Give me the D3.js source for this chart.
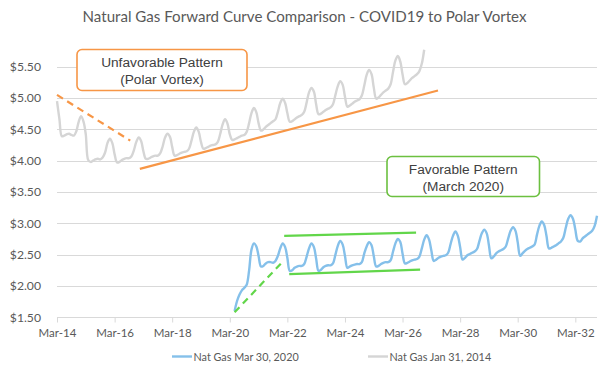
<!DOCTYPE html>
<html>
<head>
<meta charset="utf-8">
<script src="https://cdn.jsdelivr.net/npm/d3@7"></script>
<style>
  html, body { margin: 0; padding: 0; background: #ffffff; }
  svg { display: block; }
</style>
</head>
<body>
<svg id="chart" width="608" height="372"></svg>
<script>
// ---------------- DATA ----------------
const chartTitle = "Natural Gas Forward Curve Comparison - COVID19 to Polar Vortex";

// Nat Gas forward curve as of Jan 31, 2014 (monthly, first contract Mar-14)
const grayStart = "Mar-14";
const grayValues = [
  4.95, 4.66, 4.39, 4.40, 4.42, 4.43, 4.41, 4.40, 4.47, 4.62,
  4.71, 4.62, 4.42, 4.01, 3.98, 4.00, 4.02, 4.03, 4.02, 4.05, 4.13, 4.28,
  4.35, 4.28, 4.10, 3.97, 3.98, 4.01, 4.03, 4.04, 4.04, 4.07, 4.17, 4.30,
  4.37, 4.31, 4.15, 4.03, 4.03, 4.05, 4.07, 4.08, 4.08, 4.12, 4.23, 4.37,
  4.43, 4.38, 4.22, 4.08, 4.09, 4.11, 4.13, 4.14, 4.15, 4.19, 4.32, 4.46,
  4.53, 4.46, 4.30, 4.19, 4.20, 4.22, 4.24, 4.25, 4.26, 4.30, 4.43, 4.58,
  4.66, 4.59, 4.42, 4.33, 4.34, 4.36, 4.38, 4.40, 4.41, 4.46, 4.60, 4.76,
  4.84, 4.77, 4.60, 4.48, 4.50, 4.54, 4.57, 4.60, 4.63, 4.66, 4.78, 4.92,
  4.99, 4.92, 4.76, 4.62, 4.63, 4.66, 4.69, 4.71, 4.73, 4.78, 4.93, 5.09,
  5.16, 5.10, 4.90, 4.74, 4.75, 4.78, 4.81, 4.83, 4.85, 4.90, 5.05, 5.19,
  5.27, 5.21, 5.02, 4.86, 4.88, 4.91, 4.94, 4.96, 4.98, 5.04, 5.20, 5.37,
  5.45, 5.38, 5.17, 4.99, 5.01, 5.05, 5.09, 5.12, 5.15, 5.22, 5.42, 5.60,
  5.67, 5.58, 5.38, 5.22, 5.24, 5.28, 5.32, 5.35, 5.38, 5.43, 5.55, 5.77
];

// Nat Gas forward curve as of Mar 30, 2020 (monthly, first contract May-20)
const blueStart = "May-20";
const blueValues = [
  1.60, 1.76, 1.86, 1.93, 1.97, 2.02, 2.25, 2.58,
  2.68, 2.63, 2.48, 2.31, 2.32, 2.36, 2.38, 2.38, 2.37, 2.40, 2.48, 2.60,
  2.68, 2.62, 2.45, 2.24, 2.25, 2.29, 2.31, 2.32, 2.32, 2.35, 2.47, 2.60,
  2.68, 2.62, 2.44, 2.24, 2.26, 2.30, 2.32, 2.33, 2.33, 2.36, 2.50, 2.64,
  2.72, 2.66, 2.48, 2.29, 2.31, 2.33, 2.34, 2.35, 2.35, 2.38, 2.52, 2.63,
  2.70, 2.65, 2.48, 2.31, 2.32, 2.35, 2.37, 2.38, 2.38, 2.41, 2.55, 2.68,
  2.75, 2.70, 2.52, 2.36, 2.37, 2.39, 2.41, 2.42, 2.43, 2.47, 2.60, 2.74,
  2.81, 2.74, 2.57, 2.40, 2.42, 2.45, 2.47, 2.48, 2.49, 2.53, 2.67, 2.80,
  2.87, 2.80, 2.62, 2.42, 2.45, 2.49, 2.51, 2.53, 2.55, 2.59, 2.72, 2.84,
  2.90, 2.84, 2.65, 2.44, 2.47, 2.52, 2.55, 2.57, 2.59, 2.63, 2.76, 2.88,
  2.94, 2.88, 2.70, 2.48, 2.52, 2.56, 2.59, 2.61, 2.63, 2.66, 2.82, 2.96,
  3.03, 2.97, 2.80, 2.60, 2.61, 2.63, 2.65, 2.68, 2.71, 2.77, 2.93, 3.07,
  3.13, 3.07, 2.90, 2.72, 2.71, 2.76, 2.79, 2.82, 2.85, 2.88, 2.96, 3.12
];

const seriesNames = ["Nat Gas Mar 30, 2020", "Nat Gas Jan 31, 2014"];
const xTickLabels = ["Mar-14","Mar-16","Mar-18","Mar-20","Mar-22","Mar-24","Mar-26","Mar-28","Mar-30","Mar-32"];
const yTickValues = [1.5, 2.0, 2.5, 3.0, 3.5, 4.0, 4.5, 5.0, 5.5];
const xDomainLabels = ["Mar-14", "Dec-32"];
const yDomain = [1.5, 5.8];

// Trend annotations (date, price)
const trendFrom  = ["2014-03-01", "2017-01-15", "2020-05-01", "2022-01-20", "2022-03-25"];
const trendFromV = [5.05, 3.87, 1.58, 2.80, 2.19];
const trendTo    = ["2016-09-15", "2027-05-25", "2022-01-10", "2026-08-20", "2026-10-10"];
const trendToV   = [4.32, 5.12, 2.40, 2.85, 2.26];
const trendKind  = ["orangeDash", "orange", "greenDash", "green", "green"];

const boxTexts = [["Unfavorable Pattern", "(Polar Vortex)"], ["Favorable Pattern", "(March 2020)"]];

// ---------------- STYLE / LAYOUT ----------------
const W = 608, H = 372;
const plot = { left: 57, right: 597, top: 47.9, bottom: 317.3 };
const C = {
  text: "#595959", grid: "#D9D9D9", gray: "#D5D5D5", blue: "#85C0EA",
  orange: "#F79646", green: "#62D64A", greenBox: "#6CC040", boxText: "#404040"
};
const parseM = d3.timeParse("%b-%y");
const parseISO = d3.timeParse("%Y-%m-%d");

const svg = d3.select("#chart");

const x = d3.scaleTime()
  .domain(xDomainLabels.map(parseM))
  .range([plot.left, plot.right]);
const y = d3.scaleLinear().domain(yDomain).range([plot.bottom, plot.top]);

// Title
svg.append("text")
  .attr("x", 304.5).attr("y", 22)
  .attr("text-anchor", "middle")
  .attr("font-family", "Lato, 'Open Sans', sans-serif")
  .attr("font-size", 15.1)
  .attr("fill", C.text)
  .text(chartTitle);

// Gridlines
svg.append("g").selectAll("line")
  .data(yTickValues.filter(v => v !== yDomain[0]))
  .join("line")
  .attr("x1", plot.left).attr("x2", plot.right)
  .attr("y1", d => Math.round(y(d)) + 0.5).attr("y2", d => Math.round(y(d)) + 0.5)
  .attr("stroke", C.grid).attr("stroke-width", 1);

// Y axis labels
const yAxis = d3.axisLeft(y).tickValues(yTickValues).tickSize(0).tickPadding(0)
  .tickFormat(d => "$" + d3.format(".2f")(d));
const gy = svg.append("g").attr("transform", `translate(41,0)`).call(yAxis);
gy.select(".domain").remove();
gy.selectAll("text")
  .attr("font-family", "Lato, 'Open Sans', sans-serif")
  .attr("font-size", 12.2).attr("fill", C.text);

// X axis
const xTicks = xTickLabels.map(parseM);
const xAxis = d3.axisBottom(x).tickValues(xTicks).tickSize(5).tickPadding(6)
  .tickFormat(d3.timeFormat("%b-%y"));
const gx = svg.append("g").attr("transform", `translate(0,${Math.round(plot.bottom) + 0.5})`).call(xAxis);
gx.select(".domain").attr("stroke", C.grid).attr("d", `M${plot.left},0H${plot.right}`);
gx.selectAll(".tick line").attr("stroke", C.grid);
gx.selectAll("text")
  .attr("font-family", "Lato, 'Open Sans', sans-serif")
  .attr("font-size", 11.5).attr("fill", C.text);

// Series
function series(start, vals) {
  const s = parseM(start);
  return vals.map((v, i) => ({ date: d3.timeMonth.offset(s, i), value: v }));
}
const line = d3.line().x(d => x(d.date)).y(d => y(d.value)).curve(d3.curveCatmullRom.alpha(0.5));

svg.append("path").datum(series(grayStart, grayValues))
  .attr("d", line).attr("fill", "none")
  .attr("stroke", C.gray).attr("stroke-width", 2.4).attr("stroke-linejoin", "round");
svg.append("path").datum(series(blueStart, blueValues))
  .attr("d", line).attr("fill", "none")
  .attr("stroke", C.blue).attr("stroke-width", 2.4).attr("stroke-linejoin", "round");

// Trend lines
const trendStyle = {
  orangeDash: { stroke: C.orange, dash: "7,5" },
  orange: { stroke: C.orange, dash: null },
  greenDash: { stroke: C.green, dash: "7,5" },
  green: { stroke: C.green, dash: null }
};
svg.append("g").selectAll("line")
  .data(trendKind.map((k, i) => ({ k, x1: parseISO(trendFrom[i]), y1: trendFromV[i], x2: parseISO(trendTo[i]), y2: trendToV[i] })))
  .join("line")
  .attr("x1", d => x(d.x1)).attr("y1", d => y(d.y1))
  .attr("x2", d => x(d.x2)).attr("y2", d => y(d.y2))
  .attr("stroke", d => trendStyle[d.k].stroke)
  .attr("stroke-width", 2.2)
  .attr("stroke-dasharray", d => trendStyle[d.k].dash);

// Annotation boxes
const boxes = [
  { x: 77, y: 49.5, w: 170, h: 41, stroke: C.orange, lines: boxTexts[0] },
  { x: 387, y: 156.5, w: 152.5, h: 40, stroke: C.greenBox, lines: boxTexts[1] }
];
boxes.forEach(b => {
  const g = svg.append("g");
  g.append("rect")
    .attr("x", b.x).attr("y", b.y).attr("width", b.w).attr("height", b.h)
    .attr("rx", 5).attr("ry", 5)
    .attr("fill", "#ffffff").attr("stroke", b.stroke).attr("stroke-width", 1.6);
  b.lines.forEach((t, i) => {
    g.append("text")
      .attr("x", b.x + b.w / 2).attr("y", b.y + 17.5 + i * 16.8)
      .attr("text-anchor", "middle")
      .attr("font-family", "'Liberation Sans', Arial, sans-serif")
      .attr("font-size", 13.7).attr("fill", C.boxText)
      .text(t);
  });
});

// Legend
const legendItems = [
  { name: seriesNames[0], color: C.blue, x: 172 },
  { name: seriesNames[1], color: C.gray, x: 368 }
];
const lg = svg.append("g");
legendItems.forEach(it => {
  lg.append("line")
    .attr("x1", it.x).attr("x2", it.x + 20)
    .attr("y1", 356.5).attr("y2", 356.5)
    .attr("stroke", it.color).attr("stroke-width", 2.4);
  lg.append("text")
    .attr("x", it.x + 21.5).attr("y", 360.5)
    .attr("font-family", "Lato, 'Open Sans', sans-serif")
    .attr("font-size", 10.8).attr("fill", C.text)
    .text(it.name);
});
</script>
</body>
</html>
